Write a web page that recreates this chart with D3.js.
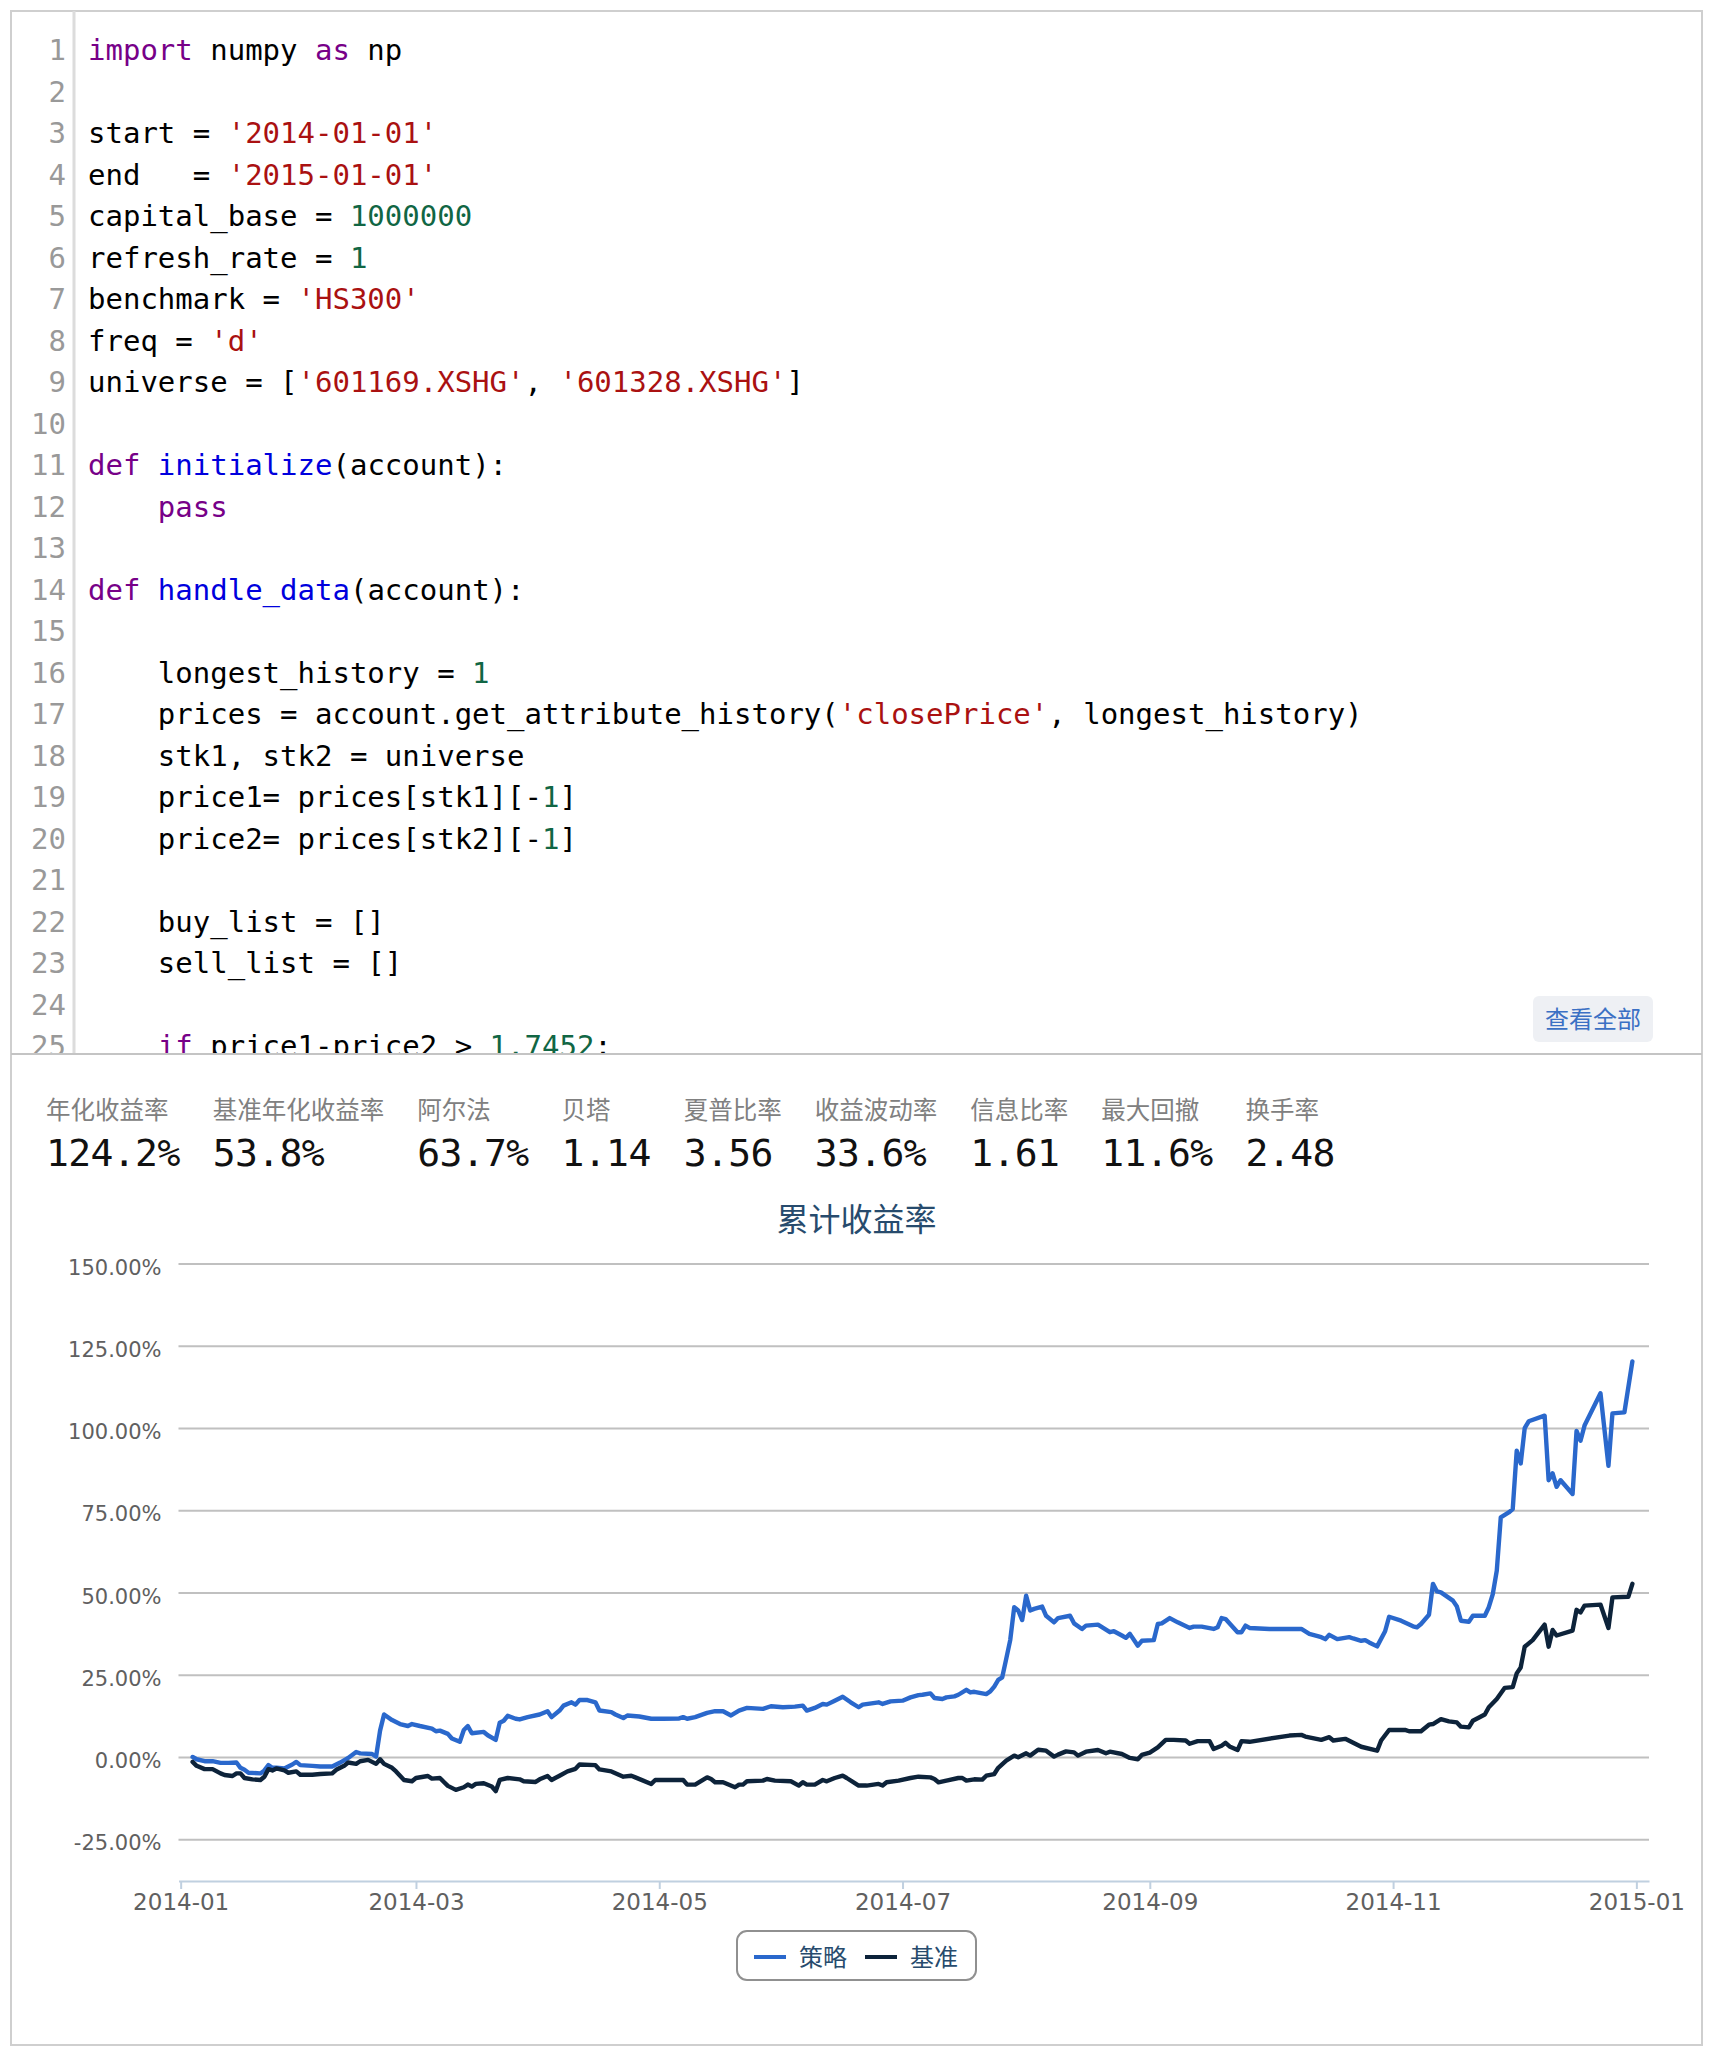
<!DOCTYPE html>
<html>
<head>
<meta charset="utf-8">
<script src="https://cdn.jsdelivr.net/npm/d3@7"></script>
<style>
  body { margin: 0; background: #fff; }
</style>
</head>
<body>
<script>
// ---- data ----
var codeLines = [
  [["import", "kw"], [" numpy ", ""], ["as", "kw"], [" np", ""]],
  [],
  [["start = ", ""], ["'2014-01-01'", "str"]],
  [["end   = ", ""], ["'2015-01-01'", "str"]],
  [["capital_base = ", ""], ["1000000", "num"]],
  [["refresh_rate = ", ""], ["1", "num"]],
  [["benchmark = ", ""], ["'HS300'", "str"]],
  [["freq = ", ""], ["'d'", "str"]],
  [["universe = [", ""], ["'601169.XSHG'", "str"], [", ", ""], ["'601328.XSHG'", "str"], ["]", ""]],
  [],
  [["def", "kw"], [" ", ""], ["initialize", "def"], ["(account):", ""]],
  [["    ", ""], ["pass", "kw"]],
  [],
  [["def", "kw"], [" ", ""], ["handle_data", "def"], ["(account):", ""]],
  [],
  [["    longest_history = ", ""], ["1", "num"]],
  [["    prices = account.get_attribute_history(", ""], ["'closePrice'", "str"], [", longest_history)", ""]],
  [["    stk1, stk2 = universe", ""]],
  [["    price1= prices[stk1][-", ""], ["1", "num"], ["]", ""]],
  [["    price2= prices[stk2][-", ""], ["1", "num"], ["]", ""]],
  [],
  [["    buy_list = []", ""]],
  [["    sell_list = []", ""]],
  [],
  [["    ", ""], ["if", "kw"], [" price1-price2 > ", ""], ["1.7452", "num"], [":", ""]]
];

var statLabels = ["年化收益率", "基准年化收益率", "阿尔法", "贝塔", "夏普比率", "收益波动率", "信息比率", "最大回撤", "换手率"];
var statValues = ["124.2%", "53.8%", "63.7%", "1.14", "3.56", "33.6%", "1.61", "11.6%", "2.48"];

var chartTitle = "累计收益率";
var seriesNames = ["策略", "基准"];
var yTicks = [-25, 0, 25, 50, 75, 100, 125, 150];
var xTicks = ["2014-01-01", "2014-03-01", "2014-05-01", "2014-07-01", "2014-09-01", "2014-11-01", "2015-01-01"];

var stratDates = [
  "2014-01-04","2014-01-05","2014-01-07","2014-01-09","2014-01-11","2014-01-13","2014-01-15","2014-01-16","2014-01-17","2014-01-18",
  "2014-01-21","2014-01-22","2014-01-23","2014-01-24","2014-01-25","2014-01-27","2014-01-29","2014-01-30","2014-01-31","2014-02-03",
  "2014-02-05","2014-02-08","2014-02-10","2014-02-12","2014-02-14","2014-02-15","2014-02-18","2014-02-19","2014-02-20","2014-02-21",
  "2014-02-23","2014-02-25","2014-02-27","2014-02-28","2014-03-02","2014-03-05","2014-03-06","2014-03-07","2014-03-09","2014-03-10",
  "2014-03-12","2014-03-13","2014-03-14","2014-03-15","2014-03-18","2014-03-19","2014-03-21","2014-03-22","2014-03-23","2014-03-24",
  "2014-03-26","2014-03-27","2014-03-29","2014-04-01","2014-04-03","2014-04-04","2014-04-06","2014-04-07","2014-04-09","2014-04-10",
  "2014-04-11","2014-04-13","2014-04-15","2014-04-16","2014-04-19","2014-04-20","2014-04-22","2014-04-23","2014-04-26","2014-04-29",
  "2014-05-02","2014-05-06","2014-05-07","2014-05-08","2014-05-10","2014-05-13","2014-05-15","2014-05-17","2014-05-19","2014-05-21",
  "2014-05-23","2014-05-27","2014-05-29","2014-06-01","2014-06-04","2014-06-06","2014-06-07","2014-06-09","2014-06-11","2014-06-12",
  "2014-06-14","2014-06-16","2014-06-18","2014-06-20","2014-06-21","2014-06-25","2014-06-26","2014-06-28","2014-07-01","2014-07-03",
  "2014-07-05","2014-07-06","2014-07-08","2014-07-09","2014-07-11","2014-07-12","2014-07-14","2014-07-15","2014-07-17","2014-07-18",
  "2014-07-19","2014-07-22","2014-07-23","2014-07-24","2014-07-25","2014-07-26","2014-07-27","2014-07-28","2014-07-29","2014-07-30",
  "2014-07-31","2014-08-01","2014-08-02","2014-08-03","2014-08-05","2014-08-06","2014-08-08","2014-08-09","2014-08-12","2014-08-13",
  "2014-08-15","2014-08-16","2014-08-19","2014-08-22","2014-08-23","2014-08-25","2014-08-26","2014-08-27","2014-08-29","2014-08-30",
  "2014-09-02","2014-09-03","2014-09-04","2014-09-06","2014-09-08","2014-09-11","2014-09-12","2014-09-14","2014-09-17","2014-09-18",
  "2014-09-19","2014-09-20","2014-09-23","2014-09-24","2014-09-25","2014-09-26","2014-10-01","2014-10-06","2014-10-09","2014-10-11",
  "2014-10-14","2014-10-15","2014-10-16","2014-10-18","2014-10-21","2014-10-22","2014-10-24","2014-10-25","2014-10-26","2014-10-28",
  "2014-10-30","2014-10-31","2014-11-03","2014-11-06","2014-11-07","2014-11-08","2014-11-10","2014-11-11","2014-11-12","2014-11-13",
  "2014-11-16","2014-11-17","2014-11-18","2014-11-20","2014-11-21","2014-11-24","2014-11-25","2014-11-26","2014-11-27","2014-11-28",
  "2014-11-30","2014-12-01","2014-12-02","2014-12-03","2014-12-04","2014-12-05","2014-12-09","2014-12-10","2014-12-11","2014-12-12",
  "2014-12-13","2014-12-16","2014-12-17","2014-12-18","2014-12-19","2014-12-23","2014-12-25","2014-12-26","2014-12-29","2014-12-31"
];
var stratValues = [
  0.2, -0.5, -1.1, -1.1, -1.6, -1.6, -1.5, -3.1, -3.7, -4.6,
  -4.8, -3.9, -2.3, -3.1, -3.1, -3.3, -2.1, -1.3, -2.3, -2.5,
  -2.7, -2.7, -1.5, -0.1, 1.7, 1.3, 1.1, 0.3, 8.2, 13.1,
  11.4, 10.2, 9.6, 10.2, 9.6, 8.8, 8.0, 8.2, 7.2, 5.8,
  4.8, 8.4, 9.6, 7.4, 7.8, 6.8, 5.4, 10.6, 11.2, 12.7,
  11.8, 11.6, 12.3, 13.1, 14.1, 12.3, 14.3, 15.8, 16.8, 16.1,
  17.5, 17.5, 16.8, 14.3, 13.8, 13.1, 12.0, 12.8, 12.5, 11.8,
  11.8, 11.9, 12.3, 11.8, 12.3, 13.6, 14.1, 14.1, 12.8, 14.3,
  15.1, 14.8, 15.6, 15.3, 15.5, 15.8, 14.3, 15.1, 16.3, 16.1,
  17.3, 18.5, 16.8, 15.3, 16.1, 16.8, 16.3, 17.1, 17.3, 18.3,
  19.0, 19.1, 19.5, 18.1, 17.8, 18.3, 18.6, 19.1, 20.6, 19.8,
  20.0, 19.3, 20.1, 21.6, 23.6, 24.4, 30.0, 35.7, 45.7, 44.7,
  41.8, 49.2, 44.7, 45.2, 45.9, 43.1, 41.1, 42.4, 43.1, 40.8,
  39.1, 40.1, 40.4, 38.1, 38.4, 37.1, 36.4, 37.6, 34.0, 35.5,
  35.7, 40.6, 40.8, 42.4, 41.1, 39.4, 39.8, 39.8, 39.1, 39.6,
  42.4, 42.1, 38.1, 38.1, 40.1, 39.4, 39.1, 39.1, 39.1, 37.6,
  36.6, 36.0, 37.3, 36.0, 36.6, 36.2, 35.5, 35.7, 35.0, 33.8,
  38.4, 42.8, 41.6, 39.9, 39.6, 40.6, 43.4, 52.8, 50.5, 50.2,
  47.7, 45.9, 41.6, 41.3, 43.1, 43.1, 45.7, 49.7, 56.8, 73.0,
  74.5, 75.5, 93.3, 89.4, 100.1, 102.2, 103.9, 84.3, 86.4, 82.3,
  84.3, 80.1, 99.3, 96.3, 100.9, 110.7, 88.7, 104.6, 104.9, 120.4
];

var benchDates = [
  "2014-01-04","2014-01-05","2014-01-07","2014-01-09","2014-01-11","2014-01-12","2014-01-14","2014-01-15","2014-01-16","2014-01-17",
  "2014-01-19","2014-01-21","2014-01-22","2014-01-23","2014-01-24","2014-01-25","2014-01-27","2014-01-28","2014-01-30","2014-01-31",
  "2014-02-03","2014-02-05","2014-02-08","2014-02-09","2014-02-11","2014-02-12","2014-02-14","2014-02-15","2014-02-17","2014-02-18",
  "2014-02-19","2014-02-20","2014-02-21","2014-02-23","2014-02-24","2014-02-26","2014-02-28","2014-03-01","2014-03-04","2014-03-05",
  "2014-03-07","2014-03-08","2014-03-09","2014-03-11","2014-03-13","2014-03-14","2014-03-15","2014-03-16","2014-03-18","2014-03-20",
  "2014-03-21","2014-03-22","2014-03-24","2014-03-27","2014-03-28","2014-03-31","2014-04-01","2014-04-03","2014-04-04","2014-04-06",
  "2014-04-08","2014-04-10","2014-04-11","2014-04-15","2014-04-16","2014-04-19","2014-04-22","2014-04-24","2014-04-25","2014-04-29",
  "2014-04-30","2014-05-07","2014-05-08","2014-05-10","2014-05-13","2014-05-14","2014-05-15","2014-05-17","2014-05-20","2014-05-21",
  "2014-05-22","2014-05-23","2014-05-27","2014-05-28","2014-05-30","2014-06-03","2014-06-05","2014-06-06","2014-06-07","2014-06-09",
  "2014-06-11","2014-06-12","2014-06-14","2014-06-16","2014-06-17","2014-06-20","2014-06-22","2014-06-25","2014-06-26","2014-06-27",
  "2014-06-30","2014-07-03","2014-07-05","2014-07-08","2014-07-09","2014-07-10","2014-07-12","2014-07-15","2014-07-16","2014-07-17",
  "2014-07-19","2014-07-21","2014-07-22","2014-07-24","2014-07-25","2014-07-27","2014-07-29","2014-07-30","2014-08-01","2014-08-02",
  "2014-08-04","2014-08-06","2014-08-08","2014-08-09","2014-08-11","2014-08-13","2014-08-14","2014-08-16","2014-08-19","2014-08-21",
  "2014-08-22","2014-08-25","2014-08-27","2014-08-29","2014-08-30","2014-09-01","2014-09-03","2014-09-05","2014-09-07","2014-09-10",
  "2014-09-11","2014-09-13","2014-09-16","2014-09-17","2014-09-19","2014-09-20","2014-09-21","2014-09-23","2014-09-24","2014-09-26",
  "2014-10-06","2014-10-09","2014-10-10","2014-10-14","2014-10-16","2014-10-17","2014-10-20","2014-10-24","2014-10-28","2014-10-29",
  "2014-10-31","2014-11-04","2014-11-05","2014-11-08","2014-11-10","2014-11-11","2014-11-13","2014-11-15","2014-11-17","2014-11-18",
  "2014-11-20","2014-11-21","2014-11-24","2014-11-25","2014-11-27","2014-11-29","2014-12-01","2014-12-02","2014-12-03","2014-12-04",
  "2014-12-06","2014-12-09","2014-12-10","2014-12-11","2014-12-12","2014-12-16","2014-12-17","2014-12-18","2014-12-19","2014-12-23",
  "2014-12-25","2014-12-26","2014-12-30","2014-12-31"
];
var benchValues = [
  -1.3, -2.5, -3.5, -3.5, -4.8, -5.3, -5.6, -4.8, -4.8, -6.2,
  -6.6, -6.8, -5.8, -3.5, -3.9, -3.3, -3.9, -4.6, -4.2, -5.2,
  -5.2, -5.0, -4.8, -3.7, -2.5, -1.5, -1.9, -1.1, -0.7, -1.3,
  -1.9, -0.5, -1.9, -3.1, -4.2, -6.8, -7.2, -6.2, -5.6, -6.4,
  -6.2, -7.4, -8.6, -9.8, -9.0, -8.2, -8.8, -8.0, -7.8, -8.8,
  -10.2, -6.8, -6.2, -6.6, -7.2, -7.4, -6.6, -5.6, -6.8, -5.5,
  -4.2, -3.4, -2.1, -2.3, -3.6, -4.2, -5.8, -5.5, -6.0, -8.0,
  -6.8, -6.8, -8.2, -8.2, -6.0, -6.5, -7.5, -7.5, -9.0, -8.2,
  -8.2, -7.2, -7.0, -6.5, -7.0, -7.2, -8.5, -7.5, -8.2, -8.2,
  -6.8, -7.2, -6.2, -5.5, -6.2, -8.5, -8.5, -8.0, -8.5, -7.5,
  -7.0, -6.2, -5.8, -6.0, -6.5, -7.5, -7.0, -6.2, -6.2, -7.0,
  -6.6, -6.7, -5.5, -5.0, -3.1, -0.9, 0.6, 0.1, 1.3, 0.6,
  2.4, 2.1, 0.3, 0.9, 1.9, 1.6, 0.6, 1.8, 2.3, 1.3,
  1.8, 1.1, -0.1, -0.5, 0.8, 1.5, 3.1, 5.4, 5.4, 5.2,
  4.2, 5.0, 5.0, 2.6, 3.6, 4.5, 3.4, 2.3, 5.0, 4.8,
  6.7, 6.9, 6.4, 5.4, 6.2, 5.2, 5.7, 3.3, 2.1, 5.2,
  8.4, 8.4, 8.0, 8.0, 10.0, 10.2, 11.7, 11.0, 10.7, 9.4,
  9.2, 11.2, 13.1, 15.3, 17.8, 21.2, 21.4, 25.6, 27.4, 33.7,
  35.7, 40.4, 33.7, 38.8, 37.1, 38.6, 44.9, 44.1, 46.2, 46.5,
  39.4, 48.7, 48.9, 52.8
];

// ---- page ----
var width = 1717;
var height = 2058;

var svg = d3.select("body")
            .append("svg")
              .attr("width", width)
              .attr("height", height);

// outer frame and divider between code and results
svg.append("rect")
   .attr("x", 11).attr("y", 11)
   .attr("width", 1691).attr("height", 2034)
   .attr("fill", "none")
   .attr("stroke", "#cfcfcf")
   .attr("stroke-width", 2);

svg.append("line")
   .attr("x1", 11).attr("x2", 1702)
   .attr("y1", 1054).attr("y2", 1054)
   .attr("stroke", "#c4c4c4")
   .attr("stroke-width", 2);

// ---- code editor ----
var codeColors = { "": "#000", kw: "#770088", def: "#0000dd", str: "#aa1111", num: "#116644" };
var lineHeight = 41.5;
var firstBaseline = 60;

svg.append("clipPath").attr("id", "codeClip")
   .append("rect")
    .attr("x", 11).attr("y", 11)
    .attr("width", 1691).attr("height", 1042);

var code = svg.append("g").attr("clip-path", "url(#codeClip)");

code.append("line")
    .attr("x1", 74).attr("x2", 74)
    .attr("y1", 11).attr("y2", 1054)
    .attr("stroke", "#dcdcdc")
    .attr("stroke-width", 3);

code.selectAll("text.num")
    .data(codeLines)
    .enter()
    .append("text")
    .attr("class", "num")
    .text(function(d, i) { return i + 1; })
    .attr("x", 66)
    .attr("y", function(d, i) { return firstBaseline + i * lineHeight; })
    .attr("text-anchor", "end")
    .attr("fill", "#999")
    .attr("font-family", "DejaVu Sans Mono")
    .attr("font-size", "29px");

var codeText = code.selectAll("text.src")
    .data(codeLines)
    .enter()
    .append("text")
    .attr("class", "src")
    .attr("x", 88)
    .attr("y", function(d, i) { return firstBaseline + i * lineHeight; })
    .attr("font-family", "DejaVu Sans Mono")
    .attr("font-size", "29px")
    .style("white-space", "pre");

codeText.selectAll("tspan")
    .data(function(d) { return d; })
    .enter()
    .append("tspan")
    .text(function(d) { return d[0]; })
    .attr("fill", function(d) { return codeColors[d[1]]; });

// "show all" button
svg.append("rect")
   .attr("x", 1533).attr("y", 996)
   .attr("width", 120).attr("height", 46)
   .attr("rx", 6)
   .attr("fill", "#eef0f4");

svg.append("text")
   .text("查看全部")
   .attr("x", 1593).attr("y", 1028)
   .attr("text-anchor", "middle")
   .attr("fill", "#3b70c4")
   .attr("font-family", "Noto Sans CJK SC")
   .attr("font-size", "24px");

// ---- stats row (flows like inline blocks) ----
var statX = 46;
statLabels.forEach(function(label, i) {
  var l = svg.append("text")
     .text(label)
     .attr("x", statX).attr("y", 1119)
     .attr("fill", "#808080")
     .attr("font-family", "Noto Sans CJK SC")
     .attr("font-size", "24.5px");
  var v = svg.append("text")
     .text(statValues[i])
     .attr("x", statX).attr("y", 1166)
     .attr("fill", "#111")
     .attr("font-family", "DejaVu Sans Mono")
     .attr("font-size", "38px")
     .attr("letter-spacing", "-0.6px");
  var w = Math.max(l.node().getComputedTextLength(), v.node().getComputedTextLength());
  statX += w + 33;
});

// ---- chart ----
var parse = d3.utcParse("%Y-%m-%d");
var plotLeft = 178.5, plotRight = 1649, plotTop = 1264, plotBottom = 1881;
var centerX = 856.5;

svg.append("text")
   .text(chartTitle)
   .attr("x", centerX).attr("y", 1231)
   .attr("text-anchor", "middle")
   .attr("fill", "#274b6d")
   .attr("font-family", "Noto Sans CJK SC")
   .attr("font-size", "32px");

var x = d3.scaleUtc()
          .domain([new Date(Date.UTC(2013, 11, 31, 11)), new Date(Date.UTC(2015, 0, 4, 4))])
          .range([plotLeft, plotRight]);
var y = d3.scaleLinear()
          .domain([-37.5, 150])
          .range([plotBottom, plotTop]);

// grid lines
svg.append("g").selectAll("line")
   .data(yTicks)
   .enter()
   .append("line")
    .attr("x1", plotLeft).attr("x2", plotRight)
    .attr("y1", function(d) { return y(d); })
    .attr("y2", function(d) { return y(d); })
    .attr("stroke", "#c0c0c0")
    .attr("stroke-width", 2);

// y axis labels
var yAxis = svg.append("g")
   .attr("transform", "translate(" + plotLeft + ",0)")
   .call(d3.axisLeft(y)
           .tickValues(yTicks)
           .tickFormat(function(d) { return d.toFixed(2) + "%"; })
           .tickSize(0)
           .tickPadding(17));
yAxis.select(".domain").remove();
yAxis.selectAll("text")
     .attr("dy", "0.48em")
     .attr("fill", "#606060")
     .attr("font-family", "DejaVu Sans")
     .attr("font-size", "21px");

// x axis
var xAxis = svg.append("g")
   .attr("transform", "translate(0," + plotBottom + ")")
   .call(d3.axisBottom(x)
           .tickValues(xTicks.map(parse))
           .tickFormat(d3.utcFormat("%Y-%m"))
           .tickSize(8)
           .tickSizeOuter(0)
           .tickPadding(5));
xAxis.select(".domain")
     .attr("stroke", "#c0d0e0")
     .attr("stroke-width", 2);
xAxis.selectAll(".tick line")
     .attr("stroke", "#c0d0e0")
     .attr("stroke-width", 2);
xAxis.selectAll("text")
     .attr("fill", "#606060")
     .attr("font-family", "DejaVu Sans")
     .attr("font-size", "23px");

// series
var strat = stratDates.map(function(d, i) { return { date: parse(d), value: stratValues[i] }; });
var bench = benchDates.map(function(d, i) { return { date: parse(d), value: benchValues[i] }; });
var seriesColors = ["#2a68cc", "#0d233a"];

var seriesLine = d3.line()
             .x(function(d) { return x(d.date); })
             .y(function(d) { return y(d.value); });

svg.selectAll("path.series")
   .data([strat, bench])
   .enter()
   .append("path")
    .attr("class", "series")
    .attr("d", seriesLine)
    .attr("fill", "none")
    .attr("stroke", function(d, i) { return seriesColors[i]; })
    .attr("stroke-width", 4.4)
    .attr("stroke-linejoin", "round")
    .attr("stroke-linecap", "round");

// legend
var legend = svg.append("g");
var legendY = 1957;
var lx = 17;
seriesNames.forEach(function(name, i) {
  var g = legend.append("g");
  g.append("line")
   .attr("x1", lx).attr("x2", lx + 32)
   .attr("y1", legendY).attr("y2", legendY)
   .attr("stroke", seriesColors[i])
   .attr("stroke-width", 4);
  var t = g.append("text")
   .text(name)
   .attr("x", lx + 45).attr("y", legendY + 9)
   .attr("fill", "#274b6d")
   .attr("font-family", "Noto Sans CJK SC")
   .attr("font-size", "24px");
  lx += 45 + t.node().getComputedTextLength() + 18;
});
var legendW = lx;
legend.insert("rect", ":first-child")
      .attr("x", 0).attr("y", 1931)
      .attr("width", legendW).attr("height", 49)
      .attr("rx", 10)
      .attr("fill", "#fff")
      .attr("stroke", "#909090")
      .attr("stroke-width", 2);
legend.attr("transform", "translate(" + (centerX - legendW / 2) + ",0)");
</script>
</body>
</html>
